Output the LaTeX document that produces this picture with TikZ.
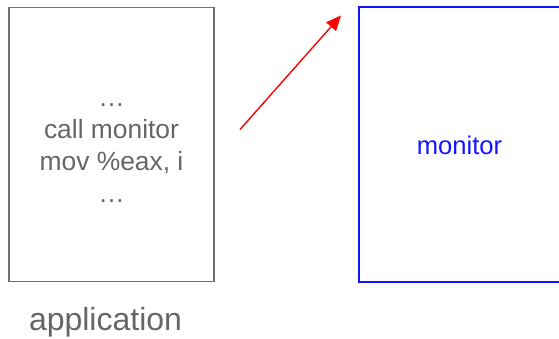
\documentclass[tikz,border=0pt]{standalone}
\usepackage{fontspec}
\setmainfont{Liberation Sans}
\usetikzlibrary{arrows.meta}
\definecolor{boxgray}{HTML}{707070}
\definecolor{textgray}{HTML}{666666}
\definecolor{monblue}{HTML}{1414FF}
\tikzset{
  appbox/.style={draw=boxgray, line width=1.5pt},
  monbox/.style={draw=monblue, line width=2pt},
  codetext/.style={text=textgray, align=center, inner sep=0pt,
    font=\fontsize{26.4}{32}\selectfont},
  captext/.style={text=textgray, inner sep=0pt, font=\fontsize{32}{38}\selectfont},
  montext/.style={text=monblue, inner sep=0pt, font=\fontsize{25.6}{31}\selectfont},
  callarrow/.style={draw=red, line width=1.4pt, -{Triangle[length=15pt,width=13pt]}}
}
\begin{document}
\begin{tikzpicture}[x=1pt,y=-1pt]
  \useasboundingbox (0,0) rectangle (559,339);
  % application box and its code listing (base anchor sits on the last line)
  \draw[appbox] (9,7.5) rectangle (214,281.5);
  \node[codetext, anchor=base] (code) at (111.5,202.5) {…\\call monitor\\mov \%eax, i\\…};
  \node[captext, anchor=base] (app) at (105.5,330) {application};
  % monitor box, running past the right edge
  \draw[monbox] (358.5,7.5) rectangle (565,282);
  \node[montext, anchor=base] (mon) at (459.5,155) {monitor};
  % call into the monitor
  \coordinate (from) at (240,129.5);
  \coordinate (to) at (341,15.5);
  \draw[callarrow] (from) -- (to);
\end{tikzpicture}
\end{document}
